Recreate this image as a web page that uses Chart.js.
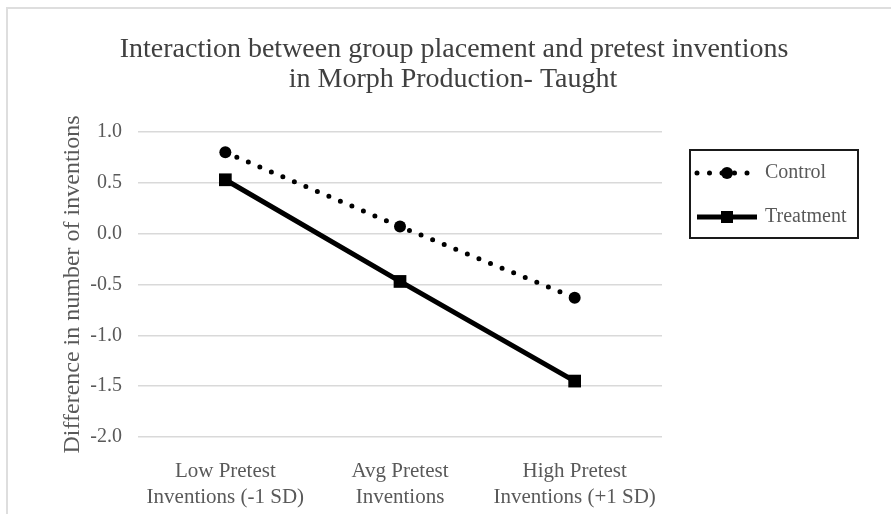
<!DOCTYPE html>
<html>
<head>
<meta charset="utf-8">
<script src="https://cdn.jsdelivr.net/npm/chart.js@4"></script>
<style>
    body { margin: 0; background: #fff; }
    #wrap { position: relative; width: 891px; height: 514px; overflow: hidden; }
    #frame { position: absolute; left: 6px; top: 7px; width: 900px; height: 520px; border: 2px solid #dedede; }
    canvas { position: absolute; left: 0; top: 0; }
</style>
</head>
<body>
<div id="wrap">
    <div id="frame"></div>
    <canvas id="chart" width="891" height="514"></canvas>
</div>
<script>
const titleLines = ['Interaction between group placement and pretest inventions', 'in Morph Production- Taught'];
const categories = [['Low Pretest', 'Inventions (-1 SD)'], ['Avg Pretest', 'Inventions'], ['High Pretest', 'Inventions (+1 SD)']];
const controlValues = [0.80, 0.07, -0.63];
const treatmentValues = [0.53, -0.47, -1.45];
const yTitle = 'Difference in number of inventions';

const SERIF = '"Liberation Serif", "Times New Roman", serif';

// titre dessiné à la main pour le centrer sur toute la largeur
const titlePlugin = {
    id: 'titleLines',
    afterDraw(chart) {
        const ctx = chart.ctx;
        ctx.save();
        ctx.font = '28px ' + SERIF;
        ctx.fillStyle = '#404040';
        ctx.textAlign = 'center';
        ctx.textBaseline = 'alphabetic';
        ctx.fillText(titleLines[0], 454, 57);
        ctx.fillText(titleLines[1], 453, 87);
        ctx.restore();
    }
};

// légende encadrée à droite
const boxLegend = {
    id: 'boxLegend',
    afterDraw(chart) {
        const ctx = chart.ctx;
        const x = 690, y = 150, w = 168, h = 88;
        ctx.save();
        ctx.strokeStyle = '#1a1a1a';
        ctx.lineWidth = 2;
        ctx.strokeRect(x, y, w, h);

        chart.data.datasets.forEach((ds, i) => {
            const cy = y + 23 + i * 44;
            ctx.strokeStyle = ds.borderColor;
            ctx.lineWidth = ds.borderWidth;
            ctx.lineCap = ds.borderCapStyle || 'butt';
            ctx.setLineDash(ds.borderDash || []);
            ctx.beginPath();
            ctx.moveTo(697, cy);
            ctx.lineTo(757, cy);
            ctx.stroke();
            ctx.setLineDash([]);
            ctx.fillStyle = ds.pointBackgroundColor;
            if (ds.pointStyle === 'rect') {
                ctx.fillRect(727 - 6, cy - 6, 12, 12);
            } else {
                ctx.beginPath();
                ctx.arc(727, cy, ds.pointRadius, 0, Math.PI * 2);
                ctx.fill();
            }
            ctx.font = '20px ' + SERIF;
            ctx.fillStyle = '#595959';
            ctx.textAlign = 'left';
            ctx.textBaseline = 'middle';
            ctx.fillText(ds.label, 765, cy);
        });
        ctx.restore();
    }
};

new Chart(document.getElementById('chart'), {
    type: 'line',
    data: {
        labels: categories,
        datasets: [{
            label: 'Control',
            data: controlValues,
            borderColor: '#000',
            borderWidth: 5,
            borderDash: [0, 12.5],
            borderCapStyle: 'round',
            pointStyle: 'circle',
            pointRadius: 6,
            pointBackgroundColor: '#000',
            pointBorderWidth: 0,
            tension: 0
        }, {
            label: 'Treatment',
            data: treatmentValues,
            borderColor: '#000',
            borderWidth: 5,
            pointStyle: 'rect',
            pointRadius: 9,
            pointBackgroundColor: '#000',
            pointBorderWidth: 0,
            tension: 0
        }]
    },
    options: {
        responsive: false,
        animation: false,
        layout: { padding: { top: 132, right: 229, left: 0, bottom: 0 } },
        plugins: { legend: { display: false }, title: { display: false }, tooltip: { enabled: false } },
        scales: {
            x: {
                offset: true,
                grid: { display: false },
                border: { display: false },
                ticks: { color: '#595959', font: { family: SERIF, size: 21, lineHeight: 1.25 }, padding: 13, maxRotation: 0 },
                afterFit: s => { s.height = 77; }
            },
            y: {
                min: -2,
                max: 1,
                grid: { color: '#d9d9d9', lineWidth: 1.5, drawTicks: false },
                border: { display: false },
                ticks: {
                    stepSize: 0.5,
                    color: '#595959',
                    padding: 16,
                    font: { family: SERIF, size: 20 },
                    callback: v => v.toFixed(1)
                },
                title: {
                    display: true,
                    text: yTitle,
                    color: '#595959',
                    font: { family: SERIF, size: 24, lineHeight: 1.2 },
                    padding: { top: 58, bottom: 0 }
                },
                afterFit: s => { s.width = 138; }
            }
        }
    },
    plugins: [titlePlugin, boxLegend]
});
</script>
</body>
</html>
